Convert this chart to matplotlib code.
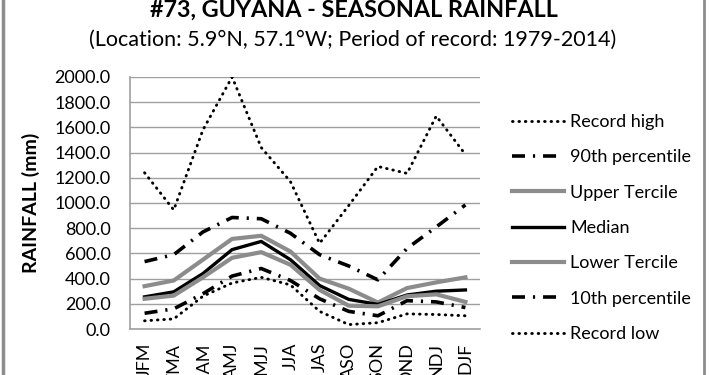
import numpy as np
import matplotlib.pyplot as plt
from matplotlib.lines import Line2D

plt.rcParams['font.family'] = ['Lato', 'DejaVu Sans']

seasons = ['JFM', 'FMA', 'MAM', 'AMJ', 'MJJ', 'JJA', 'JAS', 'ASO', 'SON', 'OND', 'NDJ', 'DJF']
record_high = [1240, 945, 1580, 2000, 1440, 1170, 680, 980, 1290, 1235, 1690, 1385]
p90 = [535, 590, 770, 885, 875, 760, 590, 500, 390, 640, 810, 985]
upper_tercile = [340, 385, 550, 715, 740, 615, 400, 320, 210, 325, 370, 410]
median = [255, 295, 440, 630, 695, 550, 345, 235, 195, 270, 300, 310]
lower_tercile = [240, 265, 410, 565, 610, 510, 310, 185, 180, 260, 275, 215]
p10 = [125, 160, 280, 420, 480, 385, 240, 140, 105, 225, 215, 170]
record_low = [65, 80, 260, 365, 410, 350, 140, 35, 50, 120, 115, 105]

fig = plt.figure(figsize=(7.1, 3.75), dpi=100)
ax = fig.add_axes([130/710, 1-329/375, 350/710, 252/375])

x = np.arange(len(seasons))
dot = (0, (0.2, 2.0))
dashdot = (0, (3.6, 2.2, 0.6, 2.2))
ax.plot(x, record_high, color='black', lw=2.1, linestyle=dot, dash_capstyle='round', label='Record high')
ax.plot(x, p90, color='black', lw=2.6, linestyle=dashdot, label='90th percentile')
ax.plot(x, upper_tercile, color='#8c8c8c', lw=3, label='Upper Tercile')
ax.plot(x, median, color='black', lw=2.4, label='Median')
ax.plot(x, lower_tercile, color='#8c8c8c', lw=3, label='Lower Tercile')
ax.plot(x, p10, color='black', lw=2.6, linestyle=dashdot, label='10th percentile')
ax.plot(x, record_low, color='black', lw=2.1, linestyle=dot, dash_capstyle='round', label='Record low')

ax.set_xlim(-0.5, len(seasons) - 0.5)
ax.set_ylim(0, 2000)
ax.set_yticks(np.arange(0, 2001, 200))
ax.set_yticklabels(['%.1f' % v for v in np.arange(0, 2001, 200)], fontsize=13)
ax.set_xticks(x)
ax.set_xticklabels(seasons, rotation=90, fontsize=13, va='top')
ax.tick_params(axis='y', length=0, pad=14)
ax.tick_params(axis='x', length=0, pad=10)
ax.grid(axis='y', color='#a0a0a0', lw=1)
ax.set_axisbelow(True)
for s in ['top', 'right']:
    ax.spines[s].set_visible(False)
for s in ['left', 'bottom']:
    ax.spines[s].set_color('#a0a0a0')
    ax.spines[s].set_linewidth(1.2)
ax.set_ylabel('RAINFALL (mm)', fontsize=14, fontweight='bold', labelpad=10)

leg = ax.legend(loc='upper left', bbox_to_anchor=(1.07, 0.882), frameon=False,
                fontsize=13, handlelength=2.9, handletextpad=0.33, labelspacing=1.07,
                borderaxespad=0)

fig.text(0.4986, 0.973, '#73, GUYANA - SEASONAL RAINFALL', ha='center', va='center',
         fontsize=16.8, fontweight='bold')
fig.text(0.496, 0.893, '(Location: 5.9°N, 57.1°W; Period of record: 1979-2014)',
         ha='center', va='center', fontsize=15.5)

fig.add_artist(Line2D([2.5/710, 2.5/710], [0, 1], color='#8c8c8c', lw=2.5))
fig.add_artist(Line2D([704/710, 704/710], [0, 1], color='#8c8c8c', lw=2))

plt.savefig('out.png', dpi=100)
